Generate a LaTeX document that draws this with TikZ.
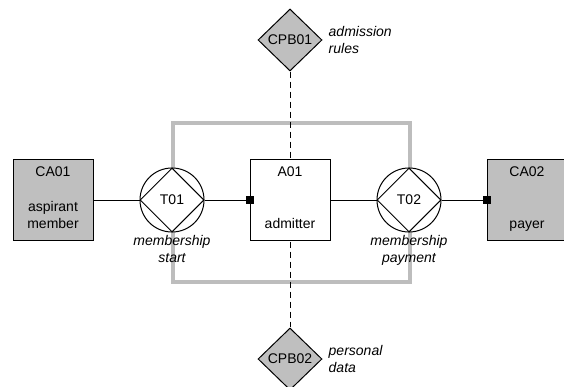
\documentclass[tikz,border=0pt]{standalone}
\usepackage{fontspec}
\setmainfont{Liberation Sans}
\usepackage{tikz}
\usetikzlibrary{shapes,arrows,positioning}
\newcommand{\diafont}{\fontsize{14}{16.5}\selectfont}
\tikzstyle{rolebox} = [rectangle, draw, line width=1pt, minimum width=80pt, minimum height=80pt, inner sep=0pt]
\tikzstyle{composite} = [rolebox, fill=gray!50]
\tikzstyle{elementary} = [rolebox, fill=white]
\tikzstyle{transaction} = [circle, draw, fill=white, line width=1pt, minimum size=64pt, inner sep=0pt]
\tikzstyle{tdiamond} = [diamond, draw, line width=1pt, minimum width=64pt, minimum height=64pt, inner sep=0pt]
\tikzstyle{bank} = [diamond, draw, fill=gray!50, line width=1pt, minimum width=64pt, minimum height=62pt, inner sep=0pt]
\tikzstyle{port} = [rectangle, fill=black, minimum size=8pt, inner sep=0pt]
\tikzstyle{idtext} = [inner sep=0pt]
\tikzstyle{roletext} = [inner sep=0pt, align=center, text depth=0pt]
\tikzstyle{caption} = [inner sep=0pt, align=center, font=\diafont\itshape]
\tikzstyle{link} = [draw, line width=0.8pt]
\tikzstyle{access} = [link, dash pattern=on 6pt off 4pt]
\tikzstyle{border} = [draw, gray!52, line width=3.5pt]

\begin{document}
\begin{tikzpicture}[x=1pt, y=-1pt, every node/.style={font=\diafont}]
    \useasboundingbox (0,0) rectangle (564,387);

    % system border
    \draw[border] (173,123) rectangle (410,282);

    % production banks
    \node[bank] (cpb01) at (290,40) {CPB01};
    \node[bank] (cpb02) at (290,359) {CPB02};
    \node[caption, align=left, right=6pt of cpb01] (cpb01cap) {admission\\rules};
    \node[caption, align=left, right=6pt of cpb02] (cpb02cap) {personal\\data};
    \path[access] (cpb01) -- (cpb02);

    % actor roles
    \node[composite] (ca01) at (53,200) {};
    \node[elementary] (a01) at (290,200) {};
    \node[composite] (ca02) at (527,200) {};
    \node[idtext, below=7pt of ca01.north] (ca01id) {CA01};
    \node[idtext, below=7pt of a01.north] (a01id) {A01};
    \node[idtext, below=7pt of ca02.north] (ca02id) {CA02};
    \node[roletext, above=12pt of ca01.south] (ca01role) {aspirant\\member};
    \node[roletext, above=12pt of a01.south] (a01role) {admitter};
    \node[roletext, above=12pt of ca02.south] (ca02role) {payer};

    % transactions
    \node[transaction] (t01) at (172,200) {T01};
    \node[tdiamond] (t01d) at (t01) {};
    \node[transaction] (t02) at (409,200) {T02};
    \node[tdiamond] (t02d) at (t02) {};
    \node[caption, below=3pt of t01] (t01cap) {membership\\start};
    \node[caption, below=3pt of t02] (t02cap) {membership\\payment};

    % links
    \path[link] (ca01) -- (t01);
    \path[link] (t01) -- (a01);
    \path[link] (a01) -- (t02);
    \path[link] (t02) -- (ca02);
    \node[port] (a01p) at (a01.west) {};
    \node[port] (ca02p) at (ca02.west) {};
\end{tikzpicture}
\end{document}
